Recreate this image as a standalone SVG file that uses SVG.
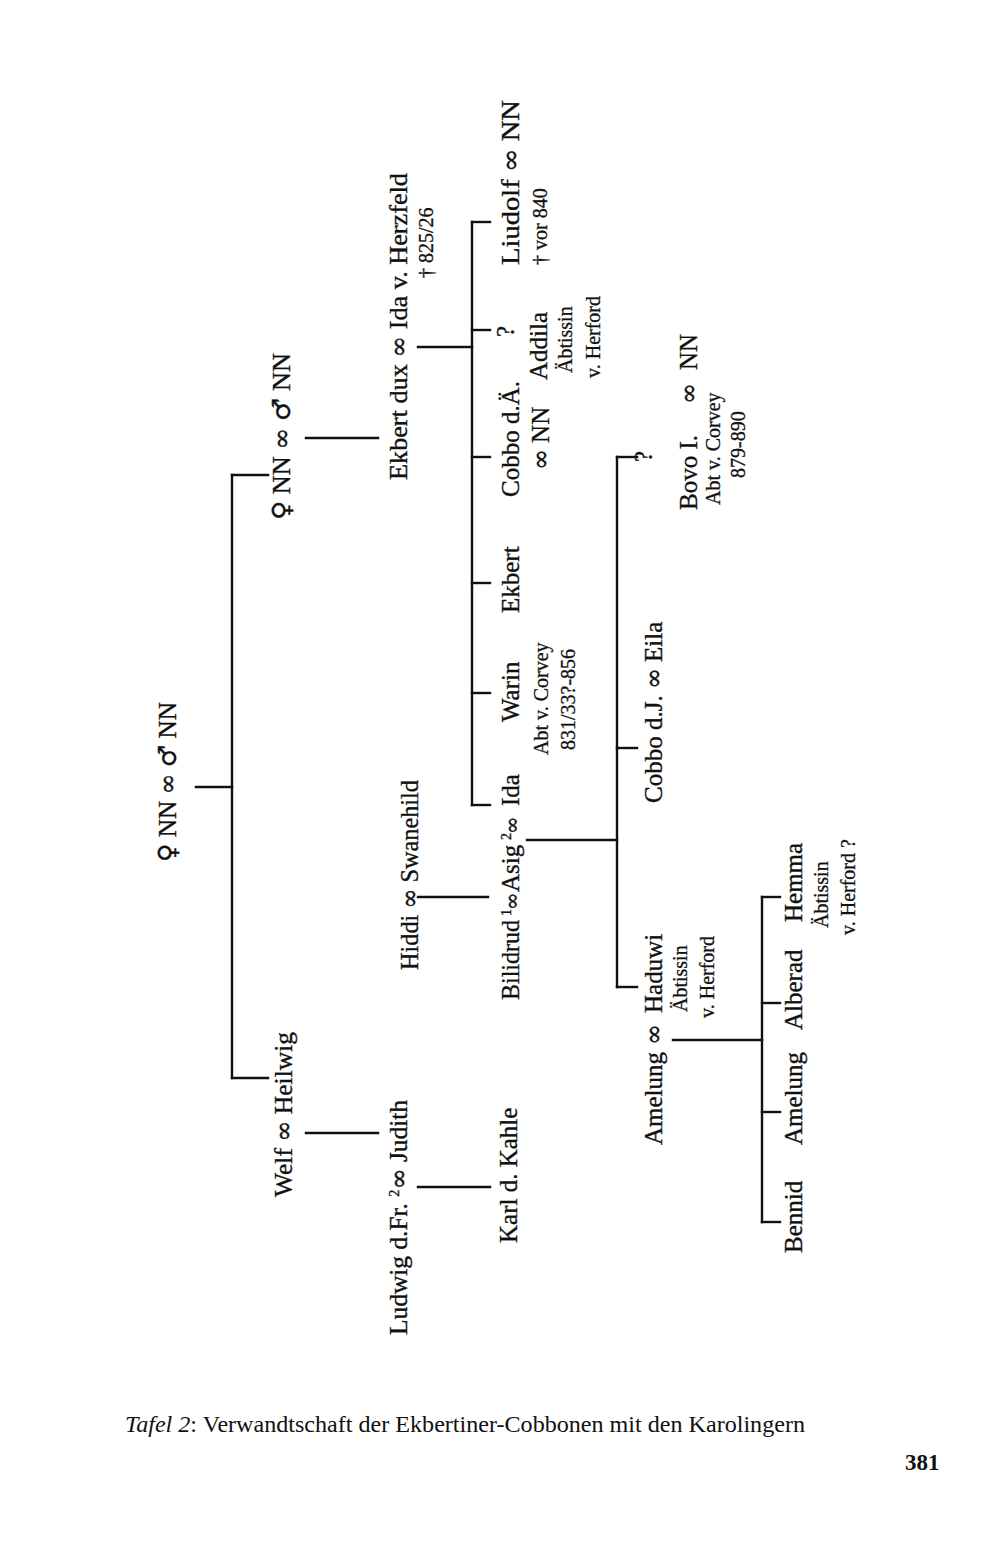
<svg xmlns="http://www.w3.org/2000/svg" width="1000" height="1542" viewBox="0 0 1000 1542">
<style>
  .n { font-family: "Liberation Serif", "DejaVu Serif", serif; font-size: 25px; fill: #111; stroke: #111; stroke-width: 0.35; }
  .s { font-family: "Liberation Serif", "DejaVu Serif", serif; font-size: 20px; fill: #111; stroke: #111; stroke-width: 0.3; }
  .sym { font-family: "DejaVu Serif", "Liberation Serif", serif; }
  .inf { font-family: "DejaVu Serif", "Liberation Serif", serif; font-size: 21px; }
  .sup { font-size: 14px; }
  .c line { stroke: #111; stroke-width: 2.4; stroke-linecap: square; }
  .cap { font-family: "Liberation Serif", "DejaVu Serif", serif; font-size: 23px; fill: #111; }
</style>
<rect width="1000" height="1542" fill="#fff"/>

<g id="connectors" class="c">
  <line x1="196" y1="787" x2="232" y2="787"/>
  <line x1="232" y1="475" x2="232" y2="1078"/>
  <line x1="232" y1="475" x2="268" y2="475"/>
  <line x1="232" y1="1078" x2="268" y2="1078"/>
  <line x1="306" y1="438" x2="378" y2="438"/>
  <line x1="418" y1="347" x2="472" y2="347"/>
  <line x1="472" y1="222" x2="472" y2="805"/>
  <line x1="472" y1="222" x2="490" y2="222"/>
  <line x1="472" y1="330" x2="490" y2="330"/>
  <line x1="472" y1="457" x2="490" y2="457"/>
  <line x1="472" y1="583" x2="490" y2="583"/>
  <line x1="472" y1="693" x2="490" y2="693"/>
  <line x1="472" y1="805" x2="490" y2="805"/>
  <line x1="418" y1="897" x2="488" y2="897"/>
  <line x1="527" y1="840" x2="617" y2="840"/>
  <line x1="617" y1="457" x2="617" y2="987"/>
  <line x1="617" y1="457" x2="637" y2="457"/>
  <line x1="617" y1="748" x2="637" y2="748"/>
  <line x1="617" y1="987" x2="637" y2="987"/>
  <line x1="673" y1="1040" x2="762" y2="1040"/>
  <line x1="762" y1="897" x2="762" y2="1222"/>
  <line x1="762" y1="897" x2="780" y2="897"/>
  <line x1="762" y1="1003" x2="780" y2="1003"/>
  <line x1="762" y1="1112" x2="780" y2="1112"/>
  <line x1="762" y1="1222" x2="780" y2="1222"/>
  <line x1="306" y1="1133" x2="378" y2="1133"/>
  <line x1="418" y1="1187" x2="490" y2="1187"/>
</g>

<g id="nn-ancestors">
  <text class="n" transform="translate(176,862) rotate(-90)" textLength="160" lengthAdjust="spacingAndGlyphs"><tspan class="sym">♀</tspan> NN <tspan class="sym">∞</tspan> <tspan class="sym">♂</tspan> NN</text>
</g>
<g id="nn-couple">
  <text class="n" transform="translate(290,520) rotate(-90)" textLength="167" lengthAdjust="spacingAndGlyphs"><tspan class="sym">♀</tspan> NN <tspan class="sym">∞</tspan> <tspan class="sym">♂</tspan> NN</text>
</g>
<g id="ekbert-dux">
  <text class="n" transform="translate(407,480) rotate(-90)" textLength="307" lengthAdjust="spacingAndGlyphs">Ekbert dux <tspan class="sym">∞</tspan> Ida v. Herzfeld</text>
  <text class="s" transform="translate(433,278) rotate(-90)">† 825/26</text>
</g>
<g id="liudolf">
  <text class="n" transform="translate(519,265) rotate(-90)" textLength="165" lengthAdjust="spacingAndGlyphs">Liudolf <tspan class="sym">∞</tspan> NN</text>
  <text class="s" transform="translate(547,265) rotate(-90)">† vor 840</text>
</g>
<g id="addila">
  <text class="n" transform="translate(514,337) rotate(-90)">?</text>
  <text class="n" transform="translate(547,380) rotate(-90)">Addila</text>
  <text class="s" transform="translate(572,373) rotate(-90)">Äbtissin</text>
  <text class="s" transform="translate(600,378) rotate(-90)">v. Herford</text>
</g>
<g id="cobbo-aelter">
  <text class="n" transform="translate(519,497) rotate(-90)">Cobbo d.Ä.</text>
  <text class="n" transform="translate(549,470) rotate(-90)"><tspan class="sym">∞</tspan> NN</text>
</g>
<g id="ekbert">
  <text class="n" transform="translate(519,613) rotate(-90)">Ekbert</text>
</g>
<g id="warin">
  <text class="n" transform="translate(519,722) rotate(-90)">Warin</text>
  <text class="s" transform="translate(548,755) rotate(-90)">Abt v. Corvey</text>
  <text class="s" transform="translate(575,750) rotate(-90)">831/33?-856</text>
</g>
<g id="ida">
  <text class="n" transform="translate(519,806) rotate(-90)">Ida</text>
</g>
<g id="hiddi">
  <text class="n" transform="translate(418,970) rotate(-90)" textLength="190" lengthAdjust="spacingAndGlyphs">Hiddi <tspan class="sym">∞</tspan> Swanehild</text>
</g>
<g id="asig">
  <text class="n" transform="translate(519,1000) rotate(-90)"><tspan x="0" textLength="80" lengthAdjust="spacingAndGlyphs">Bilidrud</tspan><tspan class="sup" x="84" dy="-8">1</tspan><tspan class="inf" x="90" dy="8">∞</tspan><tspan x="108">Asig</tspan><tspan class="sup" x="160" dy="-8">2</tspan><tspan class="inf" x="166" dy="8">∞</tspan></text>
</g>
<g id="bovo">
  <text class="n" transform="translate(652,462) rotate(-90)">?</text>
  <text class="n" transform="translate(697,510) rotate(-90)"><tspan x="0">Bovo I.</tspan><tspan class="sym" x="106">∞</tspan><tspan x="140">NN</tspan></text>
  <text class="s" transform="translate(720,505) rotate(-90)">Abt v. Corvey</text>
  <text class="s" transform="translate(745,478) rotate(-90)">879-890</text>
</g>
<g id="cobbo-juenger">
  <text class="n" transform="translate(662,803) rotate(-90)">Cobbo d.J. <tspan class="sym">∞</tspan> Eila</text>
</g>
<g id="amelung-haduwi">
  <text class="n" transform="translate(662,1145) rotate(-90)"><tspan x="0">Amelung</tspan><tspan class="sym" x="100">∞</tspan><tspan x="132">Haduwi</tspan></text>
  <text class="s" transform="translate(687,1012) rotate(-90)">Äbtissin</text>
  <text class="s" transform="translate(714,1018) rotate(-90)">v. Herford</text>
</g>
<g id="hemma">
  <text class="n" transform="translate(802,922) rotate(-90)">Hemma</text>
  <text class="s" transform="translate(828,928) rotate(-90)">Äbtissin</text>
  <text class="s" transform="translate(855,935) rotate(-90)">v. Herford ?</text>
</g>
<g id="alberad">
  <text class="n" transform="translate(802,1030) rotate(-90)">Alberad</text>
</g>
<g id="amelung">
  <text class="n" transform="translate(802,1145) rotate(-90)">Amelung</text>
</g>
<g id="bennid">
  <text class="n" transform="translate(802,1253) rotate(-90)">Bennid</text>
</g>
<g id="welf">
  <text class="n" transform="translate(292,1197) rotate(-90)" textLength="165" lengthAdjust="spacingAndGlyphs">Welf <tspan class="sym">∞</tspan> Heilwig</text>
</g>
<g id="ludwig">
  <text class="n" transform="translate(407,1335) rotate(-90)" textLength="235" lengthAdjust="spacingAndGlyphs">Ludwig d.Fr. <tspan class="sup" dy="-8">2</tspan><tspan class="sym" dy="8">∞</tspan> Judith</text>
</g>
<g id="karl">
  <text class="n" transform="translate(517,1243) rotate(-90)">Karl d. Kahle</text>
</g>

<g id="caption">
  <text class="cap" x="125" y="1432" textLength="680" lengthAdjust="spacingAndGlyphs"><tspan font-style="italic">Tafel 2</tspan>: Verwandtschaft der Ekbertiner-Cobbonen mit den Karolingern</text>
  <text class="cap" x="905" y="1470" font-weight="bold">381</text>
</g>
</svg>
